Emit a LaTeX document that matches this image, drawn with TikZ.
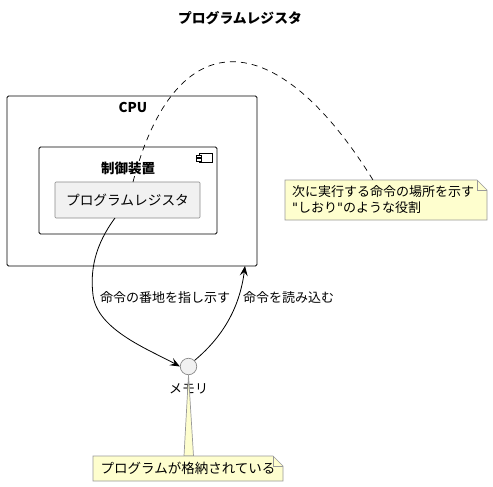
\documentclass[tikz,border=0pt]{standalone}
\usepackage{fontspec}
\setmainfont{Noto Sans CJK JP}[Ligatures=NoCommon]
\newfontfamily\qfont{DejaVu Sans}[Mapping=]
\usetikzlibrary{arrows.meta}
\definecolor{notefill}{HTML}{FEFECE}
\definecolor{noteline}{HTML}{9A9A9A}
\definecolor{regfill}{HTML}{F1F1F1}
\definecolor{regline}{HTML}{8A8A8A}
\newcommand{\sq}{{\qfont\symbol{34}}}
\tikzset{
  box/.style={draw=black,line width=0.8pt,rounded corners=1.5pt},
  regbox/.style={draw=regline,fill=regfill,line width=0.7pt,rounded corners=1pt},
  txt/.style={font=\fontsize{13}{15}\selectfont,inner sep=0pt,anchor=center},
  bold/.style={font=\fontsize{13.5}{16}\selectfont\bfseries,inner sep=0pt,anchor=center},
  arr/.style={draw=black,line width=0.8pt,-{Stealth[length=10pt,width=8pt,inset=4pt]}},
  notebox/.style={draw=noteline,fill=notefill,line width=0.7pt},
  dashline/.style={draw=black,line width=0.7pt,dash pattern=on 6pt off 5pt}
}
\begin{document}
\begin{tikzpicture}[x=1pt,y=-1pt]
\useasboundingbox[fill=white] (0,0) rectangle (493,487);
% title
\node[bold,font=\fontsize{13.8}{16}\selectfont\bfseries] (title) at (240,18) {プログラムレジスタ};
% CPU
\draw[box] (7,96) rectangle (257,266);
\node[bold] (cpulbl) at (133,107) {CPU};
\coordinate (cpuin) at (245,266);
% control unit
\draw[box] (39,147) rectangle (217,234);
\node[bold] (ctllbl) at (128,168) {制御装置};
\draw[line width=0.7pt] (199,153) rectangle (212,162);
\draw[line width=0.7pt,fill=white] (196,155) rectangle (201,157.5);
\draw[line width=0.7pt,fill=white] (196,158.5) rectangle (201,161);
% register
\draw[regbox] (55,182) rectangle (200,218);
\node[txt,font=\fontsize{13.7}{16}\selectfont] (reg) at (127.5,200) {プログラムレジスタ};
\coordinate (regbot) at (115,218);
\coordinate (regtop) at (133,182);
% memory
\node[circle,draw=regline,fill=regfill,line width=0.7pt,minimum size=16.5pt,inner sep=0pt] (mem) at (188.5,366.5) {};
\node[txt] (memlbl) at (188.5,389) {メモリ};
% arrows
\draw[arr] (regbot) .. controls (95,245) and (90,270) .. (93,295) .. controls (97,330) and (150,350) .. (mem.west);
\node[txt,anchor=west] (lbl1) at (100,298) {命令の番地を指し示す};
\draw[arr] (mem.north east) .. controls (225,335) and (240,305) .. (cpuin);
\node[txt,anchor=west] (lbl2) at (243,298) {命令を読み込む};
% note 1
\draw[notebox] (285,180) -- (477,180) -- (487,190) -- (487,220) -- (285,220) -- cycle;
\draw[draw=noteline,line width=0.7pt] (477,180) -- (477,190) -- (487,190);
\node[txt,anchor=west,align=left,font=\fontsize{13}{16}\selectfont] (note1) at (292,200) {次に実行する命令の場所を示す\\\sq しおり\sq のような役割};
\coordinate (n1top) at (373,180);
\draw[dashline] (regtop) .. controls (175,22) and (275,22) .. (n1top);
% note 2
\draw[notebox] (188.5,375) -- (193.5,456) -- (184,456) -- cycle;
\draw[notebox] (93,456) -- (273,456) -- (283,466) -- (283,481) -- (93,481) -- cycle;
\draw[draw=noteline,line width=0.7pt] (273,456) -- (273,466) -- (283,466);
\node[txt,font=\fontsize{13.5}{16}\selectfont] (note2) at (188,468.5) {プログラムが格納されている};
\end{tikzpicture}
\end{document}
